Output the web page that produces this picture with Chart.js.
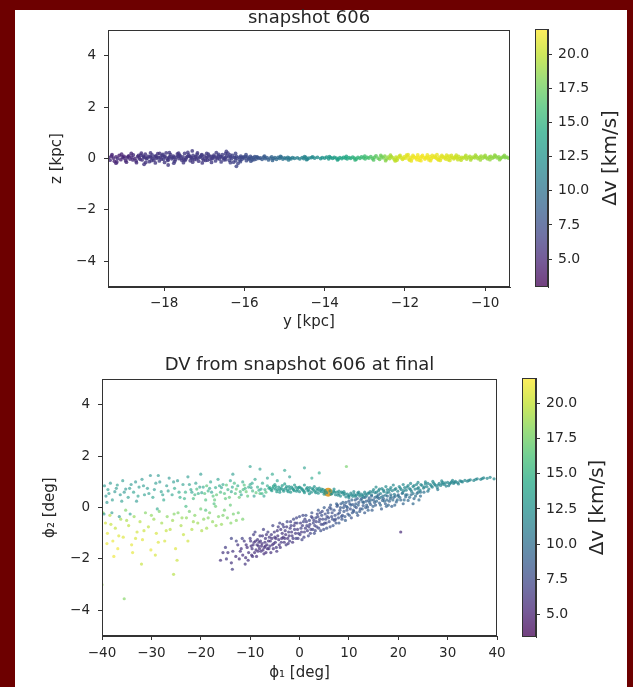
<!DOCTYPE html>
<html><head><meta charset="utf-8">
<script src="https://cdn.jsdelivr.net/npm/chart.js@4.4.1/dist/chart.umd.min.js"></script>
<style>
html,body{margin:0;padding:0;background:#6d0000;width:633px;height:687px;overflow:hidden}
#panel{position:absolute;left:15px;top:10px;width:612px;height:677px;background:#fff}
canvas{position:absolute}
</style></head><body>
<div id="panel"></div>
<canvas id="c1" width="480" height="325" style="left:45px;top:8px;width:480px;height:325px"></canvas>
<canvas id="c2" width="105" height="300" style="left:525px;top:8px;width:105px;height:300px"></canvas>
<canvas id="c3" width="470" height="332" style="left:40px;top:355px;width:470px;height:332px"></canvas>
<canvas id="c4" width="118" height="300" style="left:512px;top:355px;width:118px;height:300px"></canvas>
<script>
// ---------------- DATA ----------------
// Top panel: [y (kpc), z (kpc), dv (km/s)]
const bandWest = [[-19.38,0.05,5.0],[-19.35,-0.06,5.2],[-19.31,0.1,4.8],[-19.27,0.02,5.1],[-19.24,-0.1,4.7],[-19.2,0.07,4.9],[-19.16,0.0,5.3],[-19.12,0.12,4.7],[-19.08,-0.04,4.9],[-19.04,0.06,5.1],[-19.0,0.09,4.8],[-18.96,-0.08,5.0],[-18.92,0.03,5.2],[-18.88,0.11,4.9],[-18.85,-0.02,5.1],[-18.81,0.06,5.0],[-18.77,0.14,5.3],[-18.73,0.0,5.1],[-18.7,-0.09,5.4],[-18.66,0.08,5.3],[-18.62,0.03,5.5],[-18.58,0.13,5.8],[-18.55,-0.05,5.6],[-18.51,0.06,5.9],[-18.47,0.17,5.7],[-18.44,-0.01,6.0],[-18.4,0.09,5.8],[-18.37,-0.12,6.1],[-18.33,0.04,5.9],[-18.3,0.14,6.2],[-18.26,-0.06,5.8],[-18.23,0.08,6.0],[-18.19,0.01,6.1],[-18.16,0.19,5.7],[-18.12,-0.09,6.2],[-18.09,0.06,5.9],[-18.05,0.12,6.0],[-18.02,-0.03,6.3],[-17.98,0.09,5.8],[-17.95,0.22,6.1],[-17.91,-0.07,6.2],[-17.88,0.04,5.9],[-17.84,0.15,6.0],[-17.81,-0.01,6.3],[-17.77,0.1,5.8],[-17.74,-0.11,6.1],[-17.7,0.06,6.2],[-17.67,0.18,5.9],[-17.63,0.0,6.0],[-17.6,0.11,6.3],[-17.56,-0.06,5.9],[-17.53,0.07,6.1],[-17.49,0.2,6.2],[-17.46,-0.02,5.9],[-17.42,0.09,6.0],[-17.39,0.14,6.3],[-17.35,-0.08,6.0],[-17.32,0.03,6.1],[-17.28,0.12,6.2],[-17.25,-0.04,5.9],[-17.21,0.08,6.1],[-17.18,0.16,6.3],[-17.14,-0.1,6.0],[-17.11,0.05,6.2],[-17.07,0.13,6.1],[-17.04,0.0,6.3],[-17.0,0.1,6.0],[-16.97,-0.07,6.2],[-16.93,0.06,6.1],[-16.9,0.17,6.3],[-16.86,-0.03,6.2],[-16.83,0.09,6.0],[-16.79,0.02,6.3],[-16.76,0.13,6.2],[-16.72,-0.09,6.4],[-16.69,0.05,6.1],[-16.65,0.11,6.3],[-16.62,-0.02,6.4],[-16.58,0.08,6.2],[-16.55,0.15,6.4],[-16.51,-0.05,6.3],[-16.48,0.04,6.5],[-16.44,0.1,6.4],[-16.41,0.21,6.3],[-16.37,-0.07,6.6],[-16.34,0.06,6.5],[-16.3,0.12,6.7],[-16.27,-0.14,6.6],[-16.23,0.03,6.8],[-16.2,0.09,6.9],[-16.16,-0.19,6.8],[-16.13,0.05,7.0],[-16.09,0.1,7.1],[-16.06,-0.03,7.0],[-16.02,0.07,7.2],[-15.99,0.02,7.3],[-15.95,-0.08,7.2],[-15.92,0.06,7.4],[-15.88,0.0,7.5],[-15.85,0.09,7.5],[-15.81,-0.05,7.6],[-15.78,0.04,7.7],[-15.74,0.08,7.7],[-15.71,-0.02,7.8],[-15.67,0.05,7.9],[-15.64,0.01,8.0],
[-18.6,-0.03,5.6],[-18.52,0.1,5.8],[-18.42,0.02,6.0],[-18.35,0.08,5.9],[-18.28,0.0,6.1],[-18.21,0.11,5.9],[-18.14,0.04,6.1],[-18.07,-0.02,6.0],[-18.0,0.07,6.2],[-17.93,0.01,6.0],[-17.86,0.08,6.1],[-17.79,0.04,6.2],[-17.72,-0.04,6.0],[-17.65,0.09,6.1],[-17.58,0.02,6.2],[-17.51,-0.03,6.0],[-17.44,0.05,6.2],[-17.37,0.1,6.1],[-17.3,-0.01,6.3],[-17.23,0.06,6.1],[-17.16,0.02,6.2],[-17.09,0.09,6.3],[-17.02,-0.05,6.1],[-16.95,0.03,6.2],[-16.88,0.1,6.3],[-16.81,-0.01,6.2],[-16.74,0.06,6.3],[-16.67,0.0,6.2],[-16.6,0.07,6.4],[-16.53,0.02,6.3],[-16.46,-0.04,6.4],[-16.39,0.07,6.5],[-16.32,0.0,6.6],[-16.25,0.05,6.7],[-16.18,0.01,6.8],[-16.11,-0.06,7.0],[-16.04,0.04,7.1],[-15.97,0.08,7.3],[-15.9,-0.02,7.4],[-15.83,0.03,7.6],[-15.76,-0.04,7.7],[-15.69,0.07,7.9],
[-19.3,0.15,4.9],[-19.18,-0.13,5.0],[-19.06,0.17,4.8],[-18.94,-0.14,5.1],[-18.82,0.2,5.0],[-18.69,-0.16,5.3],[-18.57,0.21,5.6],[-18.46,-0.15,5.8],[-18.34,0.22,5.9],[-18.22,-0.17,6.0],[-18.11,0.2,5.9],[-17.99,-0.15,6.1],[-17.87,0.23,6.0],[-17.76,-0.18,6.2],[-17.64,0.21,6.0],[-17.52,-0.16,6.1],[-17.41,0.24,6.2],[-17.29,-0.14,6.0],[-17.17,0.22,6.2],[-17.05,-0.17,6.1],[-16.94,0.2,6.3],[-16.82,-0.15,6.2],[-16.7,0.23,6.3],[-16.58,-0.13,6.4],[-16.47,0.19,6.4],[-16.35,-0.16,6.6],[-16.22,0.2,6.8],[-16.1,-0.12,7.0],[-15.96,0.15,7.3],[-15.84,-0.1,7.6],
[-16.2,-0.3,6.9],[-16.45,0.28,6.4],[-17.3,0.3,6.2],[-18.5,-0.22,5.8],[-19.2,-0.18,5.0],[-17.9,-0.25,6.1],
[-19.0,0.02,5.0],[-18.9,0.08,5.1],[-18.78,-0.05,5.2],[-18.64,0.12,5.5],[-18.48,0.04,5.8],[-18.32,-0.08,6.0],[-18.18,0.06,6.0],[-18.03,0.16,6.1],[-17.9,-0.04,6.0],[-17.76,0.05,6.2],[-17.62,0.13,6.1],[-17.48,-0.07,6.2],[-17.34,0.06,6.1],[-17.2,-0.02,6.2],[-17.06,0.15,6.3],[-16.92,-0.06,6.2],[-16.78,0.08,6.3],[-16.64,0.16,6.4],[-16.5,0.01,6.4],[-16.36,0.14,6.6],[-16.22,-0.08,6.8],[-16.08,0.05,7.1]];
const bandMiddle = [[-15.6,0.03,8.1],[-15.56,-0.03,8.2],[-15.52,0.06,8.3],[-15.48,0.0,8.4],[-15.44,0.04,8.5],[-15.4,-0.05,8.6],[-15.36,0.02,8.8],[-15.32,0.07,9.0],[-15.28,0.0,9.1],[-15.24,0.04,9.3],[-15.2,-0.03,9.4],[-15.16,0.05,9.6],[-15.12,0.01,9.8],[-15.08,0.06,9.9],[-15.04,-0.02,10.0],[-15.0,0.03,10.2],[-14.96,0.0,10.3],[-14.92,0.05,10.5],[-14.88,0.02,10.6],[-14.84,-0.01,10.7],[-14.8,0.04,10.9],[-14.75,0.01,11.0],[-14.68,0.03,11.1],[-14.62,-0.01,11.2],[-14.56,0.04,11.3],[-14.52,0.0,11.4],[-14.47,0.05,11.5],[-14.43,-0.02,11.6],[-14.39,0.02,11.7],[-14.33,0.04,11.8],[-14.25,0.02,12.0],[-14.18,0.05,12.2],[-14.1,0.0,12.4],[-14.06,0.04,12.5],[-14.0,0.02,12.7],[-13.95,0.06,12.9],[-13.9,-0.01,13.0],[-13.85,0.04,13.2],[-13.8,0.01,13.3],[-13.76,0.05,13.5],[-13.71,0.02,13.6],[-13.66,-0.02,13.7],[-13.62,0.04,13.9],[-13.57,0.0,14.0],[-13.53,0.05,14.1],[-13.48,0.02,14.3],[-13.44,-0.01,14.4],[-13.39,0.04,14.6],[-13.35,0.01,14.7],[-13.3,0.06,14.9],[-13.26,0.02,15.0],[-13.21,-0.02,15.2],[-13.17,0.05,15.3],[-13.12,0.01,15.5],[-13.08,0.07,15.6],[-13.03,0.03,15.8],[-12.99,-0.01,16.0],[-12.94,0.05,16.1],[-12.9,0.02,16.3],[-12.85,0.08,16.5],[-12.81,0.0,16.7],[-12.76,0.05,16.9],[-12.72,0.11,17.0],[-12.67,0.02,17.3],[-12.63,-0.03,17.5],[-12.58,0.07,17.7],
[-15.5,0.1,8.3],[-15.3,-0.07,8.9],[-15.1,0.09,9.7],[-14.9,-0.05,10.6],[-14.5,0.08,11.4],[-14.45,-0.04,11.5],[-14.3,0.07,11.9],[-13.88,0.08,13.1],[-13.68,-0.05,13.7],[-13.46,0.09,14.3],[-13.24,-0.05,15.1],[-13.0,0.1,15.9],[-12.78,-0.05,16.8],[-12.6,0.12,17.6]];
const bandEast = [[-12.54,0.03,18.0],[-12.5,0.1,18.3],[-12.46,-0.02,18.6],[-12.42,0.06,18.9],[-12.38,0.0,19.2],[-12.34,0.08,19.5],[-12.3,0.03,19.7],[-12.26,-0.04,19.9],[-12.22,0.06,20.1],[-12.18,0.01,20.3],[-12.14,0.09,20.5],[-12.1,0.04,20.6],[-12.06,-0.03,20.8],[-12.02,0.07,20.9],[-11.98,0.02,21.0],[-11.94,0.1,21.1],[-11.9,-0.02,21.2],[-11.86,0.05,21.3],[-11.82,0.0,21.4],[-11.78,0.08,21.4],[-11.74,0.03,21.5],[-11.7,-0.04,21.5],[-11.66,0.06,21.6],[-11.62,0.01,21.6],[-11.58,0.09,21.5],[-11.54,0.04,21.6],[-11.5,-0.02,21.5],[-11.46,0.06,21.4],[-11.42,0.02,21.5],[-11.38,0.08,21.4],[-11.34,0.0,21.3],[-11.3,0.05,21.4],[-11.26,0.1,21.3],[-11.22,0.02,21.2],[-11.18,-0.03,21.3],[-11.14,0.06,21.1],[-11.1,0.01,21.2],[-11.06,0.08,21.0],[-11.02,0.03,21.1],[-10.98,-0.02,20.9],[-10.94,0.06,20.8],[-10.9,0.1,20.9],[-10.86,0.02,20.7],[-10.82,0.05,20.6],[-10.78,-0.01,20.5],[-10.74,0.07,20.4],[-10.7,0.03,20.3],[-10.66,0.09,20.2],[-10.62,0.0,20.1],[-10.58,0.05,20.0],[-10.54,0.02,19.9],[-10.5,0.07,19.8],[-10.46,-0.02,19.7],[-10.42,0.04,19.6],[-10.38,0.09,19.5],[-10.34,0.01,19.5],[-10.3,0.06,19.4],[-10.26,0.03,19.3],[-10.22,0.08,19.3],[-10.18,0.0,19.2],[-10.14,0.05,19.1],[-10.1,0.1,19.1],[-10.06,0.02,19.0],[-10.02,0.07,19.0],[-9.98,0.04,18.9],[-9.94,-0.01,18.9],[-9.9,0.06,18.8],[-9.86,0.09,18.8],[-9.82,0.02,18.7],[-9.78,0.05,18.7],[-9.74,0.1,18.6],[-9.7,0.03,18.6],[-9.66,0.07,18.5],[-9.62,0.0,18.5],[-9.58,0.05,18.4],[-9.54,0.08,18.4],[-9.5,0.04,18.3],[-9.46,0.06,18.3],[-9.42,0.02,18.2],
[-12.2,-0.06,20.0],[-12.12,0.12,20.4],[-12.04,0.0,20.9],[-11.96,0.13,21.1],[-11.88,-0.06,21.2],[-11.8,0.12,21.4],[-11.72,0.04,21.6],[-11.64,-0.06,21.5],[-11.56,0.12,21.6],[-11.48,0.03,21.5],[-11.4,-0.05,21.4],[-11.32,0.12,21.3],[-11.24,0.05,21.3],[-11.16,-0.05,21.2],[-11.08,0.12,21.0],[-11.0,0.05,21.0],[-10.92,-0.04,20.8],[-10.84,0.12,20.6],[-10.76,0.03,20.5],[-10.68,-0.04,20.3],
[-12.48,-0.08,18.4],[-12.36,0.13,19.3],[-12.24,-0.09,20.0],[-11.92,0.15,21.1],[-11.84,-0.09,21.3],[-11.68,0.14,21.5],[-11.6,-0.08,21.6],[-11.44,0.14,21.4],[-11.36,-0.08,21.4],[-11.2,0.15,21.2],[-11.12,-0.07,21.1],[-10.96,0.13,20.9],[-10.88,-0.07,20.8],[-10.72,0.13,20.4],[-10.6,-0.06,20.1],[-10.48,0.12,19.8],[-10.36,-0.05,19.5],[-10.24,0.13,19.3],[-10.12,-0.05,19.1],[-10.0,0.12,19.0],[-9.88,-0.04,18.8],[-9.76,0.13,18.7],[-9.64,-0.04,18.5],[-9.52,0.12,18.4]];

// Bottom panel: [phi1 (deg), phi2 (deg), dv (km/s)]
const streamArm = [[-6.0,0.78,13.5],[-5.6,0.66,13.2],[-5.3,0.84,13.8],[-4.9,0.72,13.0],[-4.6,0.62,13.4],[-4.2,0.8,13.1],[-3.9,0.7,12.9],[-3.5,0.86,13.3],[-3.2,0.64,13.0],[-2.8,0.75,12.8],[-2.5,0.68,13.2],[-2.1,0.82,12.9],[-1.8,0.6,13.1],[-1.4,0.74,12.7],[-1.1,0.66,13.0],[-0.7,0.79,12.8],[-0.4,0.7,13.1],[0.0,0.62,12.7],[0.3,0.76,12.9],[0.7,0.68,12.6],[1.0,0.58,13.0],[1.4,0.73,12.8],[1.7,0.65,12.5],[2.1,0.78,12.9],[2.4,0.6,12.7],[2.8,0.7,12.6],[3.1,0.64,12.9],[3.5,0.74,12.5],[3.8,0.56,12.8],[4.2,0.67,12.6],[4.5,0.72,12.4],[4.9,0.6,12.7],[5.2,0.66,12.5],[6.6,0.55,12.4],[6.9,0.64,12.6],[7.3,0.5,12.3],[7.6,0.6,12.5],[8.0,0.54,12.2],[8.3,0.45,12.4],[8.7,0.57,12.1],[9.0,0.5,12.3],[9.4,0.42,12.0],[9.7,0.53,12.2],[10.1,0.47,12.0],[10.4,0.56,11.9],[10.8,0.44,12.1],[11.1,0.52,11.8],[11.5,0.48,12.0],[11.8,0.57,11.9],[12.2,0.45,11.7],[12.5,0.53,12.0],[12.9,0.5,11.8],[13.2,0.6,11.9],[13.6,0.47,11.6],[13.9,0.56,11.8],
[-5.0,0.9,13.6],[-4.0,0.6,13.0],[-3.0,0.92,13.5],[-2.0,0.72,12.9],[-1.0,0.88,13.2],[0.0,0.8,12.9],[1.0,0.88,13.1],[2.0,0.54,12.7],[3.0,0.82,12.8],[4.0,0.76,12.6],[5.0,0.52,12.5],[7.0,0.72,12.6],[8.0,0.64,12.4],[9.0,0.62,12.3],[10.0,0.38,11.9],[11.0,0.62,12.0],[12.0,0.6,11.8],[13.0,0.4,11.7],
[14.3,0.62,11.8],[14.6,0.5,11.5],[15.0,0.7,12.0],[15.3,0.58,11.6],[15.7,0.45,11.2],[16.0,0.66,11.8],[16.4,0.55,11.4],[16.7,0.74,12.0],[17.1,0.62,11.6],[17.4,0.48,11.0],[17.8,0.7,11.9],[18.1,0.6,11.5],[18.5,0.78,12.1],[18.8,0.66,11.7],[19.2,0.52,11.1],[19.5,0.74,11.9],[19.9,0.64,11.5],[20.2,0.82,12.0],[20.6,0.7,11.7],[20.9,0.58,11.2],[21.3,0.78,11.9],[21.6,0.68,11.6],[22.0,0.86,12.0],[22.3,0.74,11.7],[22.7,0.63,11.3],[23.0,0.82,11.9],[23.4,0.72,11.6],[23.7,0.9,12.1],[24.1,0.78,11.8],[24.4,0.68,11.4],[24.8,0.86,11.9],[25.1,0.76,11.6],[25.5,0.92,12.0],[25.8,0.82,11.8],[26.2,0.72,11.5],[26.5,0.9,11.9],[26.9,0.8,11.7],[27.2,0.95,12.0],[27.6,0.86,11.8],[27.9,0.78,11.6],[28.3,0.94,11.9],[28.6,0.86,11.7],[29.0,0.98,12.0],[29.3,0.9,11.8],[29.7,0.84,11.6],[30.0,0.98,11.9],[30.4,0.92,11.8],[30.8,1.0,11.9],[31.2,0.94,11.7],[31.6,1.02,11.8],[32.0,0.97,11.9],[32.5,1.04,11.8],[33.0,1.0,11.7],[33.5,1.06,11.9],[34.0,1.03,11.8],[34.6,1.08,11.7],[35.3,1.06,11.9],[36.0,1.12,11.8],[36.7,1.1,11.7],[37.3,1.16,11.9],[38.0,1.14,12.0],[38.6,1.18,11.8],[39.4,1.12,12.0],
[15.5,0.8,12.2],[16.5,0.4,10.8],[17.5,0.82,12.1],[18.5,0.42,10.6],[19.0,0.88,12.0],[20.0,0.45,10.4],[21.0,0.9,12.1],[21.5,0.5,10.5],[22.5,0.94,12.0],[23.0,0.55,10.6],[24.0,0.98,12.1],[24.5,0.6,10.5],[25.5,1.0,12.0],[26.0,0.64,10.7],[27.0,1.02,12.0],[28.0,0.7,10.8],[28.8,1.04,11.9],[30.2,0.85,11.2],[31.0,1.06,11.9],[32.2,0.92,11.4],
[-5.8,0.7,13.3],[-5.4,0.76,13.5],[-4.8,0.82,13.4],[-4.4,0.7,13.2],[-3.7,0.76,13.1],[-3.3,0.7,12.9],[-2.6,0.82,13.0],[-2.3,0.62,12.8],[-1.6,0.8,12.9],[-1.2,0.7,13.0],[-0.6,0.64,12.8],[-0.2,0.78,12.9],[0.5,0.72,12.7],[0.9,0.64,12.8],[1.6,0.78,12.7],[1.9,0.68,12.6],[2.6,0.74,12.7],[3.3,0.58,12.5],[3.7,0.68,12.6],[4.4,0.62,12.5],[4.8,0.7,12.6],[5.5,0.58,12.4],[6.2,0.65,12.5],[6.4,0.52,12.3],[7.1,0.6,12.4],[7.8,0.48,12.2],[8.5,0.6,12.3],[9.2,0.55,12.2],[9.9,0.45,12.0],[10.6,0.5,12.0],[11.3,0.44,11.9],[12.0,0.52,11.9],[12.7,0.45,11.8],[13.4,0.53,11.8],[14.1,0.56,11.7],[14.8,0.62,11.8],[15.6,0.6,11.7],[16.2,0.72,11.9],[17.0,0.68,11.8],[17.7,0.58,11.5],[18.3,0.7,11.8],[19.3,0.7,11.7],[20.4,0.76,11.8],[21.1,0.66,11.6],[21.8,0.8,11.8],[22.5,0.7,11.6],[23.2,0.86,11.8],[23.9,0.74,11.6],[24.6,0.9,11.9],[25.3,0.8,11.7],[26.0,0.94,11.9],[26.7,0.84,11.7],[27.4,0.9,11.8],[28.1,0.88,11.7],[28.9,0.92,11.8],[29.5,0.96,11.8],[30.6,0.96,11.8],[31.4,0.98,11.7],[32.8,1.02,11.8],[34.3,1.06,11.8],[35.7,1.1,11.8],[37.0,1.13,11.8]];
const leadingFan = [[-16.0,-2.05,6.0],[-15.0,-1.55,6.5],[-14.5,-1.75,6.2],[-13.6,-2.4,6.6],[-13.8,-2.15,6.1],[-13.8,-1.2,7.0],[-13.5,-1.7,6.3],[-12.9,-1.9,5.9],[-12.5,-1.45,6.1],[-12.2,-2.0,5.8],[-11.8,-1.6,6.0],[-11.5,-1.85,5.7],[-11.2,-1.3,6.3],[-10.9,-1.95,5.9],[-10.6,-1.55,5.8],[-10.3,-1.75,6.0],[-10.0,-1.2,6.4],[-9.8,-1.5,5.8],[-9.5,-1.9,6.1],[-9.2,-1.35,6.0],[-9.0,-0.95,6.8],[-8.8,-1.65,5.8],[-8.5,-1.25,6.2],[-8.3,-1.5,5.9],[-8.0,-1.1,6.4],[-7.8,-1.7,6.0],[-7.6,-1.4,5.8],[-7.3,-0.85,6.7],[-7.1,-1.55,5.9],[-6.9,-1.2,6.2],[-6.6,-1.45,5.9],[-6.4,-0.95,6.6],[-6.2,-1.6,6.1],[-5.9,-1.3,6.0],[-5.7,-1.05,6.4],[-5.4,-0.7,6.9],[-5.2,-1.4,6.1],[-5.0,-1.15,6.3],[-4.7,-1.55,6.4],[-4.5,-0.9,6.3],[-4.2,-1.25,6.1],[-4.0,-0.6,7.1],[-3.7,-1.35,6.4],[-3.5,-1.0,6.2],[-3.2,-0.75,6.7],[-3.0,-1.2,6.3],[-2.7,-1.45,6.6],[-2.5,-0.55,7.2],[-2.2,-0.95,6.5],[-2.0,-1.3,6.6],[-1.7,-0.7,6.9],[-1.5,-1.1,6.4],[-1.2,-0.45,7.3],[-1.0,-0.85,6.7],[-0.7,-1.2,6.9],[-0.5,-0.6,7.1],[-0.2,-1.0,6.6],[0.0,-0.35,7.6],[0.3,-0.8,6.9],[0.5,-1.25,7.1],[0.8,-0.55,7.2],[1.0,-0.95,6.8],[1.3,-0.3,7.8],[1.5,-0.7,7.1],[1.8,-1.1,7.3],[2.0,-0.5,7.4],[2.3,-0.85,7.0],[2.5,-0.2,8.1],[2.8,-0.6,7.3],[3.0,-1.0,7.6],[3.3,-0.4,7.7],[3.5,-0.75,7.2],[3.8,-0.1,8.3],[4.0,-0.55,7.5],[4.3,-0.9,7.8],[4.5,-0.3,7.9],[4.8,-0.65,7.4],[5.0,0.0,8.6],[5.3,-0.45,7.7],[5.5,-0.8,8.0],[5.8,-0.2,8.1],[6.0,-0.55,7.6],[6.3,0.1,8.8],[6.5,-0.35,7.8],[6.8,-0.7,8.2],[7.0,-0.1,8.3],[7.3,-0.45,7.9],[7.5,0.15,9.0],[7.8,-0.25,8.1],[8.0,-0.6,8.4],[8.3,0.0,8.6],[8.5,-0.35,8.2],[8.8,0.2,9.2],[9.0,-0.15,8.4],[9.3,-0.5,8.7],[9.5,0.05,8.8],[9.8,-0.25,8.5],[10.0,0.25,8.6],[10.3,-0.05,7.9],[10.5,-0.4,8.0],[10.8,0.12,8.4],[11.0,-0.15,8.0],[11.3,0.3,8.8],[11.5,0.0,8.2],[11.8,-0.3,8.3],[12.0,0.2,8.6],[12.3,-0.05,8.3],[12.6,0.35,9.0],[12.9,0.08,8.5],[13.2,-0.2,8.6],[13.5,0.25,8.9],[13.8,0.02,8.6],[14.1,0.38,9.0],[14.4,0.12,8.6],[14.7,-0.1,8.7],[15.0,0.3,9.0],[15.4,0.1,8.7],[15.8,0.4,9.2],[16.2,0.18,8.9],[16.6,-0.05,8.8],[17.0,0.35,9.2],[17.4,0.15,9.0],[17.8,0.45,9.4],[18.2,0.25,9.1],[18.7,0.05,9.0],[19.1,0.4,9.4],[19.6,0.22,9.2],[20.0,0.5,9.6],[20.5,0.3,9.4],[21.0,0.15,9.3],[21.5,0.42,9.7],[22.0,0.28,9.5],[22.6,0.5,9.8],[23.2,0.35,9.6],[23.8,0.55,10.0],[24.5,0.45,9.9],[25.2,0.6,10.2],[20.5,-0.95,5.5],
[-9.6,-1.6,6.0],[-9.1,-1.75,5.8],[-8.6,-1.45,6.0],[-8.1,-1.6,5.8],[-7.9,-1.3,6.1],[-7.4,-1.65,5.7],[-7.0,-1.35,6.0],[-6.8,-1.75,5.8],[-6.3,-1.3,5.9],[-6.0,-1.5,6.1],[-5.6,-1.2,6.0],[-5.3,-1.6,5.8],[-4.9,-1.35,6.1],[-4.4,-1.1,6.0],[-4.1,-1.45,5.9],[-3.8,-0.85,6.3],[-3.3,-1.15,6.1],[-2.9,-0.9,6.3],[-2.4,-1.2,6.0],[-1.9,-0.8,6.4],[-1.4,-1.35,6.1],[-0.9,-0.6,6.6],[-0.4,-0.85,6.4],[0.1,-1.05,6.5],[0.6,-0.7,6.6],[1.1,-0.45,6.9],[1.6,-0.9,6.7],[2.1,-0.65,6.8],[2.6,-0.4,7.0],[3.1,-0.7,7.0],[3.6,-0.25,7.3],[4.1,-0.45,7.2],[4.6,-0.15,7.5],[5.1,-0.6,7.3],[5.6,-0.35,7.5],[6.1,0.0,7.9],[6.6,-0.2,7.8],[7.1,-0.5,7.7],[7.6,0.05,8.2],[8.1,-0.2,8.0],[8.6,-0.45,8.1],[9.1,0.1,8.4],[9.6,-0.1,8.2],[10.2,0.15,8.6],[10.7,-0.2,8.4],[11.2,0.05,8.7],[11.7,0.35,9.0],[12.2,-0.15,8.6],[12.8,0.22,9.0],[13.4,0.0,8.8],[14.0,0.28,9.1],[14.6,0.45,9.3],[15.2,0.2,9.1],[16.0,0.5,9.5],[16.8,0.28,9.3],[17.6,0.05,9.1],[18.4,0.35,9.5],[19.3,0.1,9.3],[23.0,0.15,9.6],[24.2,0.3,9.9],
[-9.9,-1.3,6.1],[-9.7,-1.85,5.8],[-9.4,-1.45,6.0],[-9.3,-1.05,6.5],[-8.9,-1.3,5.9],[-8.7,-1.9,5.8],[-8.4,-1.7,5.9],[-8.2,-1.35,6.0],[-7.7,-1.5,5.8],[-7.5,-1.1,6.2],[-7.2,-1.8,5.8],[-6.95,-1.5,5.8],[-6.7,-1.05,6.3],[-6.5,-1.6,5.9],[-6.1,-1.15,6.1],[-5.8,-1.75,5.9],[-5.5,-1.45,5.8],[-5.1,-0.95,6.3],[-4.8,-1.2,6.0],[-4.6,-1.7,6.1],[-4.3,-0.75,6.5],[-3.9,-1.55,6.1],[-3.6,-1.2,5.9],[-3.4,-0.65,6.6],[-3.1,-1.35,6.1],[-2.8,-1.05,6.0],[-2.6,-0.75,6.4],[-2.3,-1.4,6.3],[-2.1,-1.1,6.1],[-1.8,-0.55,6.8],[-1.6,-0.95,6.2],[-1.3,-1.2,6.4],[-1.1,-0.7,6.3],[-0.8,-1.0,6.2],[-0.6,-0.4,7.1],[-0.3,-1.2,6.6],[0.2,-0.6,6.5],[0.4,-0.95,6.4],[0.7,-0.3,7.2],[0.9,-1.15,6.8],[1.2,-0.8,6.6],[1.4,-0.55,6.8],[1.9,-0.75,6.7],[2.2,-1.0,7.0],[2.4,-0.35,7.1],[2.7,-0.85,6.9],[2.9,-0.5,7.0],[3.2,-0.9,7.2],[3.4,-0.55,7.0],[3.7,-0.35,7.4],[3.9,-0.8,7.3],[4.2,-0.2,7.6],[4.4,-0.65,7.2],[4.7,-0.45,7.3],[4.9,-0.85,7.6],[5.2,-0.25,7.7],[5.4,-0.6,7.4],[5.7,-0.1,8.0],[5.9,-0.4,7.6],[6.2,-0.75,7.8],[6.4,-0.05,8.2],[6.7,-0.45,7.8],[7.2,-0.3,7.9],[7.4,-0.6,8.1],[7.7,0.1,8.6],[7.9,-0.4,8.0],[8.2,-0.1,8.3],[8.4,0.15,8.8],[8.7,-0.3,8.2],[8.9,0.0,8.5],[9.2,-0.35,8.4],[9.4,0.2,9.0],[9.7,0.0,8.7],[10.1,-0.3,8.6],[10.4,0.1,8.9],[10.6,0.3,9.2],[10.9,-0.1,8.8],[11.4,0.15,9.1],[11.6,-0.2,8.9],[11.9,0.1,9.2],[12.4,0.3,9.4],[12.7,-0.05,9.0],[13.0,0.2,9.3],[13.3,0.4,9.6],[13.6,0.1,9.2],[13.9,-0.1,9.1],[14.2,0.2,9.3],[14.5,0.3,9.5],[14.9,0.05,9.2],[15.3,0.4,9.7],[15.6,0.25,9.5],[16.1,0.35,9.7],[16.4,0.1,9.4],[16.9,0.45,9.9],[17.2,0.25,9.6],[17.7,0.3,9.7],[18.0,0.1,9.5],[18.5,0.5,10.0],[18.9,0.3,9.8],[19.4,0.45,10.0],[19.8,0.3,9.9],[20.3,0.4,10.0],[20.8,0.55,10.3],[21.2,0.3,10.0],[21.8,0.5,10.3],[22.3,0.4,10.2],[23.5,0.45,10.3],[24.0,0.6,10.6],[-11.6,-1.2,6.8],[-12.0,-1.7,6.0],[-10.8,-1.45,5.9],[-10.4,-2.05,6.0],[-11.0,-2.2,6.2],[-14.8,-2.0,6.4],[-12.8,-1.3,6.9],[-15.5,-1.75,6.2]];
const trailingCloud = [[-39.5,0.85,13.0],[-39.2,0.45,12.5],[-38.8,0.7,13.5],[-38.3,0.95,12.8],[-37.9,0.3,13.2],[-37.4,0.62,12.6],[-36.9,0.88,13.4],[-36.3,0.5,12.9],[-35.8,1.05,13.1],[-35.2,0.72,12.7],[-34.7,0.4,13.3],[-34.1,0.9,12.8],[-33.6,0.6,13.6],[-33.0,0.25,12.9],[-32.5,0.8,13.2],[-31.9,1.1,12.7],[-31.4,0.5,13.4],[-30.8,0.75,13.0],[-30.2,1.25,12.6],[-29.7,0.4,13.8],[-29.1,0.95,13.1],[-28.6,1.25,12.9],[-28.0,0.62,13.5],[-27.5,0.3,14.0],[-26.9,0.85,13.2],[-26.4,1.15,12.8],[-25.8,0.5,13.7],[-25.3,0.75,14.2],[-24.7,1.05,13.0],[-24.2,0.4,14.5],[-23.6,0.9,13.4],[-23.1,0.6,14.8],[-22.6,1.2,13.1],[-22.0,0.7,14.0],[-21.5,0.35,15.5],[-21.0,0.95,13.6],[-20.5,0.55,14.6],[-20.0,1.3,13.0],[-19.5,0.8,14.2],[-19.0,0.3,16.0],[-18.5,0.65,15.0],[-18.0,1.0,13.8],[-17.5,0.45,16.2],[-17.0,0.78,14.4],[-16.5,1.1,13.5],[-16.0,0.6,15.4],[-15.5,0.9,14.0],[-15.0,0.35,16.5],[-14.5,0.7,15.0],[-14.0,1.05,13.8],[-13.5,1.3,13.2],[-13.0,0.55,15.8],[-12.5,0.85,14.4],[-12.0,0.62,15.6],[-11.5,1.0,14.0],[-11.0,0.75,15.0],[-10.5,0.45,16.4],[-10.0,1.6,13.5],[-10.0,0.9,14.2],[-9.5,0.65,15.2],[-9.0,1.1,13.8],[-8.5,0.8,14.6],[-8.0,1.5,13.4],[-8.0,0.55,15.8],[-7.5,0.95,14.0],[-7.0,0.7,14.8],[-6.5,1.15,13.6],[-6.5,0.85,14.3],
[-21.8,0.6,13.5],[-20.8,0.72,15.8],[-19.8,0.58,13.8],[-18.8,0.85,16.4],[-17.8,0.6,13.6],[-16.8,0.5,16.8],[-15.8,0.78,13.7],[-14.8,0.88,16.5],[-13.8,0.62,13.9],[-12.8,0.72,16.8],[-11.8,0.5,13.8],[-10.8,0.62,17.0],[-9.8,0.78,13.6],[-8.8,0.58,16.6],[-7.8,0.72,13.4],[-6.8,0.6,15.8],[-11.2,0.88,16.0],[-13.2,0.95,15.5],[-9.2,0.45,13.2],[-7.2,0.45,13.5],
[-3.0,1.45,13.8],[1.0,1.55,13.5],[9.5,1.6,17.5],[-4.5,1.05,13.6],[-2.0,1.2,13.2],[2.5,1.15,13.9],[4.0,1.35,14.4],[-5.5,1.3,14.0],
[-39.0,0.2,12.8],[-38.6,0.55,13.1],[-37.1,0.75,12.9],[-36.0,0.25,13.3],[-35.5,0.6,12.8],[-34.4,0.75,13.2],[-33.2,1.0,12.7],[-32.7,0.45,13.5],[-31.6,0.85,13.0],[-30.5,0.55,13.3],[-29.4,0.7,13.0],[-28.3,1.0,12.8],[-27.7,0.5,13.6],[-26.6,0.65,13.4],[-25.5,1.0,13.1],[-24.4,0.6,14.0],[-23.3,0.35,15.0],[-22.3,0.9,13.4],[-21.2,0.5,15.2],[-20.2,0.8,13.6],[-19.2,0.55,16.2],[-18.2,0.75,14.0],[-17.2,0.3,16.6],[-16.2,0.85,14.0],[-15.2,0.55,16.0],[-14.2,0.4,16.6],[-13.6,0.8,14.2],[-12.2,0.4,16.8],[-11.4,0.7,15.4],[-10.3,0.8,14.4],[-9.6,0.95,13.8],[-8.2,0.68,14.5],[-7.6,0.55,15.0],[-6.2,0.75,14.0],
[-39.8,-0.2,18.5],[-39.3,-0.6,20.5],[-38.9,-1.0,21.0],[-38.4,-0.3,19.5],[-37.8,-1.3,21.2],[-37.3,-0.8,20.0],[-36.8,-1.6,21.4],[-36.2,-0.45,19.0],[-35.7,-1.15,20.8],[-35.2,-0.1,17.8],[-34.6,-0.7,19.8],[-34.0,-1.45,21.0],[-33.5,-0.35,18.6],[-32.9,-0.95,20.4],[-32.3,-0.55,19.5],[-31.8,-1.25,20.9],[-31.2,-0.2,18.0],[-30.6,-0.75,19.8],[-30.1,-1.65,21.1],[-29.5,-0.45,18.8],[-29.0,-1.0,20.5],[-28.4,-0.15,17.6],[-27.9,-0.6,19.0],[-27.3,-1.3,20.6],[-26.8,-0.35,18.2],[-26.2,-0.85,19.6],[-25.7,-0.5,18.8],[-25.1,-1.6,20.8],[-24.6,-0.2,17.8],[-24.0,-0.7,19.2],[-23.5,-1.05,20.0],[-22.9,-0.4,18.4],[-22.3,-0.15,17.4],[-21.8,-0.85,19.4],[-21.2,-0.3,18.0],[-20.6,-0.6,18.8],[-20.0,-0.05,17.2],[-19.4,-0.45,18.2],[-18.8,-0.8,19.0],[-18.2,-0.2,17.6],[-17.6,-0.55,18.4],[-17.0,0.05,17.0],[-16.4,-0.35,17.8],[-15.8,-0.65,18.6],[-15.2,-0.1,17.2],[-14.6,-0.4,17.6],[-14.0,0.1,16.8],[-13.4,-0.25,17.4],[-12.8,-0.5,18.0],
[-39.0,-1.4,21.2],[-38.2,-0.65,20.0],[-36.6,-1.1,20.8],[-35.0,-0.5,19.2],[-33.2,-1.2,20.6],[-31.5,-0.9,20.2],[-30.0,-0.3,18.4],[-28.6,-1.35,20.8],[-27.0,-0.9,20.0],[-25.4,-0.25,18.0],[-23.8,-0.4,18.6],[-22.6,-1.3,20.3],[-21.5,-0.55,18.8],[-19.8,-0.9,19.3],[-18.5,-0.4,18.0],[-16.9,-0.7,18.6],[-15.5,-0.3,17.6],[-13.9,-0.6,18.0],[-12.4,-0.2,17.2],[-11.5,-0.45,17.5],
[-40.0,-3.0,19.0],[-35.5,-3.55,18.0],[-32.0,-2.2,20.0],[-25.5,-2.6,19.5],[-24.8,-2.05,20.2],[-29.2,-1.85,20.5],[-33.8,-1.75,21.0],[-37.6,-1.9,21.3],
[-39.6,-0.25,12.5],[-38.0,-0.2,13.0],[-36.5,-0.35,12.8],[-34.3,-0.25,13.5],[-28.8,-0.05,14.0],[-23.0,0.05,15.5],[-19.0,-0.1,16.0],[-17.3,0.15,15.8]];
const progenitor = [[5.8, 0.6]];

// axes limits and tick labels
const topXRange = [-19.4, -9.38];
const topYRange = [-5, 5];
const topXTicks = [-18, -16, -14, -12, -10];
const topYTicks = [-4, -2, 0, 2, 4];
const botXRange = [-40, 40];
const botYRange = [-5, 5];
const botXTicks = [-40, -30, -20, -10, 0, 10, 20, 30, 40];
const botYTicks = [-4, -2, 0, 2, 4];
const cbTopRange = [2.95, 21.85];
const cbBotRange = [3.4, 21.8];
const cbTicks = [5, 7.5, 10, 12.5, 15, 17.5, 20];

const titles = {top: 'snapshot 606', bottom: 'DV from snapshot 606 at final'};
const axisTitles = {topX: 'y [kpc]', topY: 'z [kpc]', botX: 'ϕ\u2081 [deg]', botY: 'ϕ\u2082 [deg]', cb: 'Δv [km/s]'};

// ---------------- STYLE / HELPERS ----------------
const FONT = '"DejaVu Sans", sans-serif';
const TXT = '#262626';
const AXC = '#333333';
Chart.defaults.font.family = FONT;
Chart.defaults.color = TXT;

const VIRIDIS = ['#440154','#482475','#414487','#355f8d','#2a788e','#21918c','#22a884','#44bf70','#7ad151','#bddf26','#fde725'];
function hexRgb(h){return [parseInt(h.slice(1,3),16),parseInt(h.slice(3,5),16),parseInt(h.slice(5,7),16)];}
const VIR_RGB = VIRIDIS.map(hexRgb);
function viridis(t, a){
  t = Math.max(0, Math.min(1, t));
  const s = t * (VIR_RGB.length - 1);
  const i = Math.min(Math.floor(s), VIR_RGB.length - 2);
  const f = s - i;
  const c0 = VIR_RGB[i], c1 = VIR_RGB[i+1];
  const r = Math.round(c0[0] + (c1[0]-c0[0])*f);
  const g = Math.round(c0[1] + (c1[1]-c0[1])*f);
  const b = Math.round(c0[2] + (c1[2]-c0[2])*f);
  return 'rgba(' + r + ',' + g + ',' + b + ',' + a + ')';
}
function fmtMinus(v){ return v < 0 ? '\u2212' + Math.abs(v) : String(v); }
const toPts = arr => arr.map(p => ({x: p[0], y: p[1], v: p[2]}));

const frame = {id: 'frame', afterDatasetsDraw(chart){
  const a = chart.chartArea, ctx = chart.ctx;
  ctx.save(); ctx.strokeStyle = AXC; ctx.lineWidth = 1;
  ctx.strokeRect(Math.round(a.left) + 0.5, Math.round(a.top) + 0.5, Math.round(a.right - a.left) - 1, Math.round(a.bottom - a.top) - 1);
  ctx.restore();
}};

function axisCommon(ticks, afterFitFn, padding, fontSize){
  return {
    type: 'linear',
    afterBuildTicks: s => { s.ticks = ticks.map(v => ({value: v})); },
    afterFit: afterFitFn,
    grid: {display: true, drawOnChartArea: false, drawTicks: true, tickLength: 4, tickColor: AXC, tickWidth: 1},
    border: {display: true, color: AXC, width: 1},
    ticks: {padding: padding, autoSkip: false, maxRotation: 0, font: {size: fontSize}, color: TXT, callback: v => fmtMinus(v)}
  };
}

function scatterChart(id, cfg){
  const xs = Object.assign(axisCommon(cfg.xTicks, s => { s.height = cfg.xH; s.paddingLeft = 0; s.paddingRight = 0; }, cfg.xPad, 13.5), {
    min: cfg.xRange[0], max: cfg.xRange[1],
    title: {display: true, text: cfg.xTitle, font: {size: 15}, color: TXT, padding: {top: 0, bottom: cfg.xTitlePad}}
  });
  const ys = Object.assign(axisCommon(cfg.yTicks, s => { s.width = cfg.yW; s.paddingTop = 0; s.paddingBottom = 0; }, 8, 13.5), {
    min: cfg.yRange[0], max: cfg.yRange[1],
    title: {display: true, text: cfg.yTitle, font: {size: 15}, color: TXT, padding: {top: cfg.yTitlePad, bottom: 0}}
  });
  return new Chart(document.getElementById(id), {
    type: 'scatter',
    data: {datasets: cfg.datasets},
    options: {
      responsive: false, animation: false, devicePixelRatio: 1,
      layout: {padding: {left: 0, right: cfg.rightPad, top: 0, bottom: 0}},
      plugins: {
        legend: {display: false}, tooltip: {enabled: false},
        title: {display: true, text: cfg.title, fullSize: false, color: TXT,
                font: {size: 18, weight: 'normal'}, padding: {top: cfg.titleTop, bottom: cfg.titleBottom}}
      },
      scales: {x: xs, y: ys}
    },
    plugins: [frame]
  });
}

function pointSet(arr, range, radius, alpha){
  return {
    data: toPts(arr),
    pointRadius: radius, pointBorderWidth: 0, pointHoverRadius: radius,
    pointBackgroundColor: c => (c.raw && c.raw.v !== undefined) ? viridis((c.raw.v - range[0]) / (range[1] - range[0]), alpha) : 'rgba(0,0,0,0)'
  };
}

// top scatter
scatterChart('c1', {
  title: titles.top, titleTop: 0, titleBottom: 0.6,
  xRange: topXRange, yRange: topYRange, xTicks: topXTicks, yTicks: topYTicks,
  xTitle: axisTitles.topX, yTitle: axisTitles.topY,
  xH: 46, yW: 63, xPad: 4, xTitlePad: 2, yTitlePad: 3, rightPad: 15,
  datasets: [pointSet(bandWest, cbTopRange, 1.9, 0.8), pointSet(bandMiddle, cbTopRange, 1.9, 0.8), pointSet(bandEast, cbTopRange, 1.9, 0.8)]
});

// bottom scatter
scatterChart('c3', {
  title: titles.bottom, titleTop: 0, titleBottom: 2.6,
  xRange: botXRange, yRange: botYRange, xTicks: botXTicks, yTicks: botYTicks,
  xTitle: axisTitles.botX, yTitle: axisTitles.botY,
  xH: 51, yW: 62, xPad: 5, xTitlePad: 5, yTitlePad: 1, rightPad: 13,
  datasets: [
    pointSet(trailingCloud, cbBotRange, 1.6, 0.6),
    pointSet(leadingFan, cbBotRange, 1.6, 0.7),
    pointSet(streamArm, cbBotRange, 1.6, 0.7),
    {data: progenitor.map(p => ({x: p[0], y: p[1]})), pointRadius: 4.5, pointBorderWidth: 0, pointBackgroundColor: '#e3a235'}
  ]
});

// colorbars
function colorbar(id, range, cfg){
  const labelPlugin = {id: 'cbLabel', afterDraw(chart){
    const a = chart.chartArea, ctx = chart.ctx;
    ctx.save();
    ctx.translate(cfg.labelX, (a.top + a.bottom) / 2);
    ctx.rotate(-Math.PI / 2);
    ctx.font = '20px ' + FONT; ctx.fillStyle = TXT;
    ctx.textAlign = 'center'; ctx.textBaseline = 'middle';
    ctx.fillText(axisTitles.cb, 0, 0);
    ctx.restore();
  }};
  return new Chart(document.getElementById(id), {
    type: 'bar',
    data: {labels: [''], datasets: [{
      data: [[range[0], range[1]]],
      barPercentage: 1, categoryPercentage: 1, borderWidth: 0, borderSkipped: false,
      backgroundColor: c => {
        const a = c.chart.chartArea;
        if (!a) return 'rgba(0,0,0,0)';
        const g = c.chart.ctx.createLinearGradient(0, a.bottom, 0, a.top);
        VIRIDIS.forEach((h, i) => g.addColorStop(i / (VIRIDIS.length - 1), viridis(i / (VIRIDIS.length - 1), 0.75)));
        return g;
      }
    }]},
    options: {
      responsive: false, animation: false, devicePixelRatio: 1,
      layout: {padding: {left: cfg.left, right: 0, top: cfg.top, bottom: cfg.bottom}},
      plugins: {legend: {display: false}, tooltip: {enabled: false}, title: {display: false}},
      scales: {
        x: {display: false},
        y: Object.assign(axisCommon(cbTicks, s => { s.width = cfg.axisW; s.paddingTop = 0; s.paddingBottom = 0; }, 6, 14), {
          position: 'right', min: range[0], max: range[1],
          ticks: {padding: 6, autoSkip: false, font: {size: 14}, color: TXT, callback: v => v.toFixed(1)}
        })
      }
    },
    plugins: [frame, labelPlugin]
  });
}
colorbar('c2', cbTopRange, {left: 10, top: 21, bottom: 21, axisW: 82, labelX: 86});
colorbar('c4', cbBotRange, {left: 10, top: 23, bottom: 18, axisW: 94, labelX: 86});
</script>
</body></html>
